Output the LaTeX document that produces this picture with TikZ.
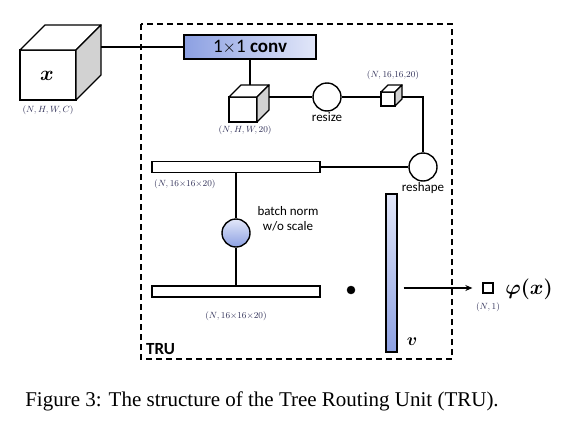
\documentclass[tikz,border=0pt]{standalone}
\usepackage{amsmath,bm}
\usepackage{fontspec}
\setmainfont{Liberation Serif}
\newfontfamily\calibri{Carlito}
\usetikzlibrary{positioning,arrows.meta}
\definecolor{tiedark}{RGB}{140,160,226}
\definecolor{tielight}{RGB}{226,231,249}
\definecolor{dimtext}{RGB}{45,45,85}
\tikzset{
	link/.style={line width=1.4pt},
	bar/.style={draw, line width=1.4pt, fill=white, minimum width=168pt, minimum height=11pt, inner sep=0pt},
	op/.style={circle, draw, line width=1.4pt, fill=white, minimum size=28pt, inner sep=0pt},
	dimlbl/.style={font=\fontsize{8.7}{10}\selectfont, text=dimtext, inner sep=1pt},
	oplbl/.style={font=\calibri\fontsize{13}{15}\selectfont, inner sep=1pt}
}
% front face top-left corner, width, height, depth
\newcommand{\boxcube}[5]{%
	\draw [link, fill=white] (#1,#2) rectangle ++(#3,#4);
	\draw [link, fill=white, line join=round] (#1,#2) -- ++(#5,-#5) -- ++(#3,0) -- ++(-#5,#5) -- cycle;
	\draw [link, fill=gray!35, line join=round] (#1+#3,#2) -- ++(#5,-#5) -- ++(0,#4) -- ++(-#5,#5) -- cycle;}
\begin{document}
\begin{tikzpicture}[x=1pt, y=-1pt]
	\useasboundingbox (0,0) rectangle (572,423);
	% TRU frame
	\draw [line width=1.4pt, dash pattern=on 6pt off 4pt] (141,24) rectangle (452,359);
	\node [font=\calibri\bfseries\fontsize{17}{19}\selectfont, anchor=west, inner sep=0pt] (tru) at (146,349) {TRU};
	% Input tensor
	\boxcube{20}{50}{56}{50}{25}
	\node (x) at (47,76) {\fontsize{22}{24}\selectfont$\bm{x}$};
	\node [dimlbl] (x dim) at (48,110) {$(N,H,W,C)$};
	\coordinate (x out) at (101,47);
	% 1x1 conv
	\node [draw, line width=1.4pt, left color=tiedark, right color=tielight, minimum width=132pt, minimum height=24pt, font=\calibri\fontsize{19}{21}\selectfont] (conv) at (250,47) {1$\times$1 \textbf{conv}};
	\draw [link] (x out) -- (conv.west);
	% Feature map after conv
	\boxcube{229}{97}{28}{25}{12}
	\coordinate (feat in) at (250,85);
	\coordinate (feat out) at (269,97);
	\node [dimlbl] (feat dim) at (245,130) {$(N,H,W,20)$};
	\draw [link] (conv.south) -- (feat in);
	% Resize
	\node [op] (resize) at (327,97) {};
	\node [oplbl, below=0pt of resize] (resize lbl) {resize};
	\draw [link] (feat out) -- (resize.west);
	\boxcube{381}{92}{14}{14}{7}
	\coordinate (small in) at (381,97);
	\coordinate (small out) at (402,97);
	\node [dimlbl] (small dim) at (393,75) {$(N,16{,}16{,}20)$};
	\draw [link] (resize.east) -- (small in);
	% Reshape
	\node [op] (reshape) at (423,167) {};
	\node [oplbl, below=0pt of reshape] (reshape lbl) {reshape};
	\draw [link] (small out) -| (reshape.north);
	% Flattened vectors
	\node [bar] (top bar) at (236,167) {};
	\node [dimlbl, anchor=north west] (top dim) at (153,179) {$(N,16{\times}16{\times}20)$};
	\draw [link] (reshape.west) -- (top bar.east);
	\node [op, top color=tielight, bottom color=tiedark] (bn) at (236,233) {};
	\node [oplbl, align=center] (bn lbl) at (288,219) {batch norm\\w/o scale};
	\node [bar] (low bar) at (236,291.5) {};
	\node [dimlbl] (low dim) at (236,316) {$(N,16{\times}16{\times}20)$};
	\draw [link] (top bar.south) -- (bn.north);
	\draw [link] (bn.south) -- (low bar.north);
	% Inner product with v
	\draw [fill] (351,290) circle [radius=4];
	\node [draw, line width=1.4pt, top color=tielight, bottom color=tiedark, minimum width=11pt, minimum height=158pt, inner sep=0pt] (v) at (391.5,273) {};
	\node (v lbl) at (412,342) {\fontsize{19}{21}\selectfont$\bm{v}$};
	% Output
	\node [draw, line width=1.3pt, minimum size=10pt, inner sep=0pt] (out) at (488,288) {};
	\node [dimlbl] (out dim) at (488,307) {$(N,1)$};
	\node (phi) at (529,289) {\fontsize{20}{22}\selectfont$\bm{\varphi(x)}$};
	\draw [line width=1.3pt, -{Stealth[length=7pt,width=6pt]}, shorten >=10pt] ([xshift=6pt]v.east |- out.west) -- (out.west);
	% Caption
	\node (caption) at (262,401) {\fontsize{21}{23}\selectfont Figure 3: The structure of the Tree Routing Unit (TRU).};
\end{tikzpicture}
\end{document}
